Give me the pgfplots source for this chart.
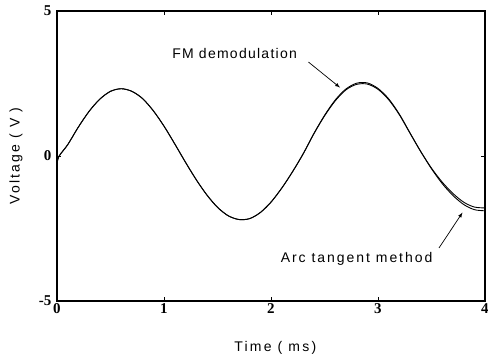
\documentclass[border=0pt]{standalone}
\usepackage{pgfplots}
\pgfplotsset{compat=1.18}
\usepackage{fontspec}
\setmainfont{Liberation Sans}
\newfontfamily\annA[LetterSpace=9]{Liberation Sans}
\newfontfamily\annB[LetterSpace=14]{Liberation Sans}
\newfontfamily\lab[LetterSpace=16]{Liberation Sans}
\newfontfamily\tickfont{Liberation Serif}
\begin{document}
\begin{tikzpicture}[x=1pt,y=1pt]
\useasboundingbox (0,0) rectangle (488,359);
\begin{axis}[at={(57pt,58pt)}, anchor=south west,
  width=428pt, height=290pt, scale only axis,
  xmin=0, xmax=4, ymin=-5, ymax=5,
  xtick={0,1,2,3,4}, ytick={-5,0,5},
  tick align=inside, tick pos=both, major tick length=4pt,
  axis line style={line width=1.1pt}, tick style={line width=0.9pt, black},
  ticklabel style={font=\tickfont\bfseries\fontsize{15}{17}\selectfont},
  /pgf/number format/assume math mode=true,
  xticklabel style={yshift=1pt},
  yticklabel style={xshift=-2pt},
  xlabel={Time ( ms)}, ylabel={Voltage ( V )},
  xlabel style={font=\lab\fontsize{14}{16}\selectfont, at={(axis description cs:0.51,-0.162)}, anchor=center},
  ylabel style={font=\lab\fontsize{14}{16}\selectfont, at={(axis description cs:-0.096,0.5)}, anchor=center},
  clip=false]
\addplot[black, line width=0.9pt, smooth] coordinates {
(0,-0.26) (0.02,0.0) (0.1,0.39) (0.2,1.00) (0.3,1.54) (0.4,1.96) (0.5,2.23) (0.6,2.32) (0.7,2.23) (0.8,1.98) (0.9,1.56) (1.0,1.03) (1.1,0.42)
(1.2,-0.21) (1.3,-0.81) (1.4,-1.34) (1.5,-1.77) (1.6,-2.06) (1.7,-2.19) (1.8,-2.16) (1.9,-1.95) (2.0,-1.59) (2.1,-1.11) (2.2,-0.55)
(2.3,0.07) (2.4,0.76) (2.5,1.38) (2.6,1.90) (2.7,2.28) (2.8,2.47) (2.9,2.48) (3.0,2.30) (3.1,1.94) (3.2,1.42) (3.3,0.78) (3.4,0.15)
(3.5,-0.42) (3.6,-0.90) (3.7,-1.29) (3.8,-1.59) (3.9,-1.76) (4.0,-1.79)};
\addplot[black, line width=0.9pt, smooth] coordinates {
(0,-0.26) (0.02,0.0) (0.1,0.39) (0.2,1.00) (0.3,1.54) (0.4,1.96) (0.5,2.23) (0.6,2.32) (0.7,2.23) (0.8,1.98) (0.9,1.56) (1.0,1.03) (1.1,0.42)
(1.2,-0.21) (1.3,-0.81) (1.4,-1.34) (1.5,-1.77) (1.6,-2.06) (1.7,-2.19) (1.8,-2.16) (1.9,-1.95) (2.0,-1.59) (2.1,-1.11) (2.2,-0.55)
(2.3,0.07) (2.4,0.77) (2.5,1.40) (2.6,1.93) (2.7,2.31) (2.8,2.51) (2.9,2.52) (3.0,2.33) (3.1,1.97) (3.2,1.44) (3.3,0.79) (3.4,0.15)
(3.5,-0.44) (3.6,-0.95) (3.7,-1.36) (3.8,-1.67) (3.9,-1.85) (4.0,-1.89)};
\node[font=\annA\fontsize{14}{16}\selectfont] at (axis cs:1.66,3.55) {FM demodulation};
\draw[-latex, line width=0.7pt] (axis cs:2.35,3.24) -- (axis cs:2.645,2.36);
\node[font=\annB\fontsize{14}{16}\selectfont] at (axis cs:2.80,-3.55) {Arc tangent method};
\draw[-latex, line width=0.7pt] (axis cs:3.57,-3.17) -- (axis cs:3.79,-1.95);
\end{axis}
\end{tikzpicture}
\end{document}
